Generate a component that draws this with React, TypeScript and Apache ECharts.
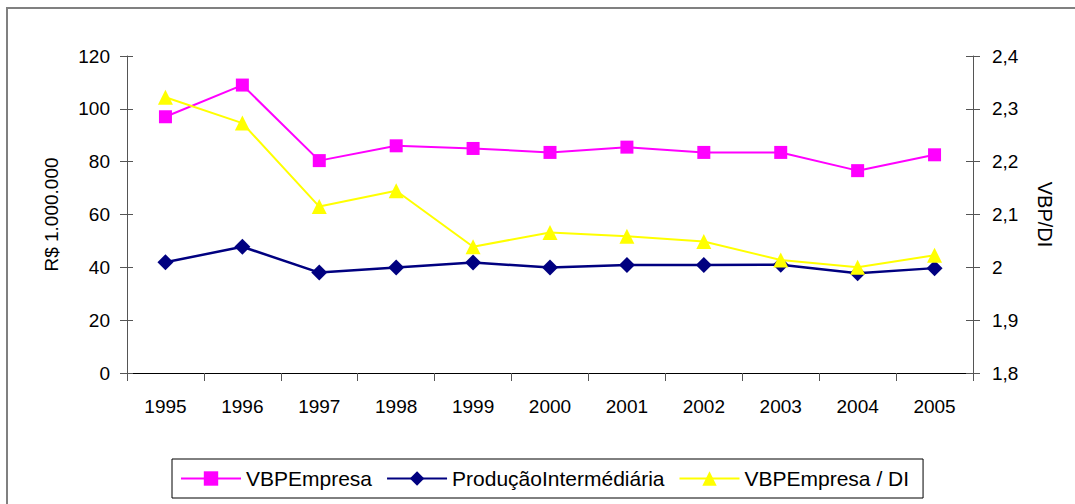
import React, { useEffect, useRef } from "react";
import * as echarts from "echarts";

const years = ["1995", "1996", "1997", "1998", "1999", "2000", "2001", "2002", "2003", "2004", "2005"];
const vbpEmpresa = [97, 109, 80.4, 86, 85, 83.5, 85.5, 83.5, 83.5, 76.6, 82.6];
const producaoIntermediaria = [41.9, 47.8, 38, 39.9, 41.8, 39.9, 40.9, 40.9, 41, 37.8, 39.7];
const vbpPorDI = [2.322, 2.273, 2.115, 2.145, 2.039, 2.066, 2.059, 2.049, 2.014, 2.0, 2.023];

const seriesNames = ["VBPEmpresa", "ProduçãoIntermédiária", "VBPEmpresa / DI"];
const leftAxisName = "R$ 1.000.000";
const rightAxisName = "VBP/DI";

const tickFont = "'Liberation Sans', Arial, sans-serif";
const textFont = "'Liberation Sans', Arial, sans-serif";

export default function App() {
  const ref = useRef<HTMLDivElement>(null);
  useEffect(() => {
    if (!ref.current) return;
    const chart = echarts.init(ref.current, null, { renderer: "svg" });
    const commaFmt = (v: number) => String(Math.round(v * 10) / 10).replace(".", ",");
    chart.setOption({
      animation: false,
      backgroundColor: "#fff",
      graphic: [
        {
          type: "rect",
          shape: { x: 7, y: 8, width: 1080, height: 510 },
          style: { fill: "none", stroke: "#808080", lineWidth: 2 },
          silent: true,
        },
      ],
      grid: { left: 127, right: 102, top: 56, bottom: 131 },
      legend: {
        left: 172,
        top: 459,
        height: 41,
        padding: [9, 14, 9, 8],
        itemGap: 14,
        itemWidth: 60,
        itemHeight: 18,
        borderColor: "#000",
        borderWidth: 1,
        textStyle: { fontFamily: textFont, fontSize: 21, color: "#000" },
        data: seriesNames,
      },
      xAxis: {
        type: "category",
        data: years,
        boundaryGap: true,
        axisLine: { lineStyle: { color: "#000", width: 1 } },
        axisTick: { show: true, length: 8, lineStyle: { color: "#555" } },
        axisLabel: { fontFamily: tickFont, fontSize: 19, color: "#000", margin: 24 },
        splitLine: { show: false },
      },
      yAxis: [
        {
          type: "value",
          min: 0,
          max: 120,
          interval: 20,
          name: leftAxisName,
          nameLocation: "middle",
          nameGap: 66,
          nameTextStyle: { fontFamily: textFont, fontSize: 19, color: "#000" },
          axisLine: { show: true, lineStyle: { color: "#555" } },
          axisTick: { show: true, length: 7, lineStyle: { color: "#555" } },
          axisLabel: { fontFamily: tickFont, fontSize: 19, color: "#000", margin: 17 },
          splitLine: { show: false },
        },
        {
          type: "value",
          position: "right",
          min: 1.8,
          max: 2.4,
          interval: 0.1,
          name: rightAxisName,
          nameLocation: "middle",
          nameGap: 62,
          nameRotate: -90,
          nameTextStyle: { fontFamily: textFont, fontSize: 20, color: "#000" },
          axisLine: { show: true, lineStyle: { color: "#555" } },
          axisTick: { show: true, length: 7, lineStyle: { color: "#555" } },
          axisLabel: { fontFamily: tickFont, fontSize: 19, color: "#000", margin: 19, formatter: commaFmt },
          splitLine: { show: false },
        },
        {
          type: "value",
          position: "left",
          min: 0,
          max: 120,
          interval: 20,
          axisLine: { show: false },
          axisTick: { show: true, inside: true, length: 6, lineStyle: { color: "#555" } },
          axisLabel: { show: false },
          splitLine: { show: false },
        },
        {
          type: "value",
          position: "right",
          min: 1.8,
          max: 2.4,
          interval: 0.1,
          axisLine: { show: false },
          axisTick: { show: true, inside: true, length: 7, lineStyle: { color: "#555" } },
          axisLabel: { show: false },
          splitLine: { show: false },
        },
      ],
      series: [
        {
          name: seriesNames[0],
          type: "line",
          yAxisIndex: 0,
          data: vbpEmpresa,
          symbol: "rect",
          symbolSize: 13,
          itemStyle: { color: "#FF00FF" },
          lineStyle: { color: "#FF00FF", width: 2 },
          z: 3,
        },
        {
          name: seriesNames[1],
          type: "line",
          yAxisIndex: 0,
          data: producaoIntermediaria,
          symbol: "diamond",
          symbolSize: 16,
          itemStyle: { color: "#000080" },
          lineStyle: { color: "#000080", width: 2.5 },
          z: 2,
        },
        {
          name: seriesNames[2],
          type: "line",
          yAxisIndex: 1,
          data: vbpPorDI,
          symbol: "triangle",
          symbolSize: 15,
          itemStyle: { color: "#FFFF00" },
          lineStyle: { color: "#FFFF00", width: 2 },
          z: 4,
        },
      ],
    });
    return () => chart.dispose();
  }, []);
  return (
    <div
      ref={ref}
      style={{ position: "absolute", left: 0, top: 0, width: 1075, height: 504 }}
    />
  );
}
